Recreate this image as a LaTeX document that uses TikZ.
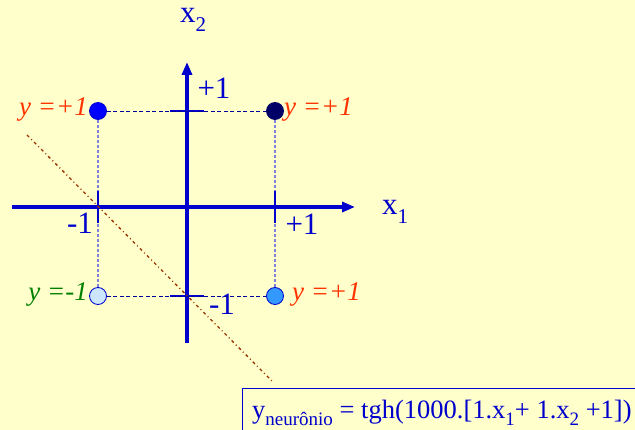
\documentclass[tikz,border=0pt]{standalone}
\usepackage{fontspec}
\setmainfont{Liberation Serif}
\usetikzlibrary{arrows.meta}

\definecolor{paper}{HTML}{FFFFCC}
\definecolor{axisblue}{HTML}{0000CC}
\definecolor{darkdash}{HTML}{000099}
\definecolor{lightdash}{HTML}{8080DD}
\definecolor{outred}{HTML}{FF3300}
\definecolor{outgreen}{HTML}{008000}
\definecolor{sepbrown}{HTML}{993300}
\definecolor{palepoint}{HTML}{CCE6FF}
\definecolor{midpoint}{HTML}{3399FF}
\definecolor{navypoint}{HTML}{000066}

\newcommand{\lowidx}[2][18]{\raisebox{-0.28em}{\fontsize{#1}{#1}\selectfont #2}}

\begin{document}
\begin{tikzpicture}[x=1pt,y=-1pt,
    axis/.style={axisblue, line width=3.2pt, -{Triangle[length=13pt,width=10pt]}},
    tick/.style={axisblue, line width=2.4pt},
    hdash/.style={darkdash, line width=0.9pt, dash pattern=on 4pt off 2.5pt},
    vdash/.style={lightdash, line width=1.8pt, dash pattern=on 3pt off 2pt},
    sepline/.style={sepbrown, line width=1.3pt, dash pattern=on 3pt off 3pt on 1pt off 3pt},
    point/.style={circle, draw=axisblue, line width=0.8pt, minimum size=17pt, inner sep=0pt},
    ticklab/.style={text=axisblue, font=\fontsize{31}{34}\selectfont, inner sep=0pt},
    axislab/.style={text=axisblue, font=\fontsize{31}{34}\selectfont, inner sep=0pt},
    outlab/.style={font=\fontsize{27}{30}\selectfont\itshape, inner sep=0pt}]

\useasboundingbox[fill=paper] (0,0) rectangle (635,430);

% Axes
\coordinate (o) at (187,207);
\coordinate (xl) at (12,207);
\coordinate (xr) at (355,207);
\coordinate (yl) at (187,343);
\coordinate (yt) at (187,62);
\draw[axis] (xl) -- (xr);
\draw[axis] (yl) -- (yt);
\node[axislab] (x1) at (395,212) {x\lowidx[21]{1}};
\node[axislab] (x2) at (193,20) {x\lowidx[21]{2}};

% Ticks
\coordinate (tl1) at (98,191);  \coordinate (tl2) at (98,223);
\coordinate (tr1) at (275,191); \coordinate (tr2) at (275,223);
\coordinate (tt1) at (170,111); \coordinate (tt2) at (204,111);
\coordinate (tb1) at (170,296); \coordinate (tb2) at (204,296);
\draw[tick] (tl1) -- (tl2);
\draw[tick] (tr1) -- (tr2);
\draw[tick] (tt1) -- (tt2);
\draw[tick] (tb1) -- (tb2);
\node[ticklab] (lm1) at (80,223) {-1};
\node[ticklab] (lp1) at (302,224) {+1};
\node[ticklab] (tp1) at (214,88) {+1};
\node[ticklab] (bm1) at (222,304) {-1};

% Inputs
\node[point, fill=blue] (pa) at (98,111) {};
\node[point, fill=navypoint, draw=navypoint] (pb) at (275,111) {};
\node[point, fill=palepoint] (pc) at (98,296) {};
\node[point, fill=midpoint] (pd) at (275,296) {};

% Guide lines
\draw[hdash] (pa) -- (pb);
\draw[hdash] (pc) -- (pd);
\draw[vdash] (pa) -- (tl1);
\draw[vdash] (pc) -- (tl2);
\draw[vdash] (pb) -- (tr1);
\draw[vdash] (pd) -- (tr2);

% Outputs
\node[outlab, text=outred, anchor=east] (ya) at (88,110) {y =+1};
\node[outlab, text=outred, anchor=west] (yb) at (284,110) {y =+1};
\node[outlab, text=outgreen, anchor=east] (yc) at (88,295) {y =-1};
\node[outlab, text=outred, anchor=west] (yd) at (292,295) {y =+1};

% Decision line
\coordinate (s1) at (27,135);
\coordinate (s2) at (273,382);
\draw[sepline] (s1) -- (s2);

% Neuron
\draw[axisblue, line width=0.8pt] (242,388) rectangle (640,432);
\node[text=axisblue, anchor=base west, inner sep=0pt, font=\fontsize{26.5}{30}\selectfont] (neu) at (252,418)
    {y\lowidx[19]{neurônio} = tgh(1000.[1.x\lowidx[19]{1}+ 1.x\lowidx[19]{2} +1])};

\end{tikzpicture}
\end{document}
